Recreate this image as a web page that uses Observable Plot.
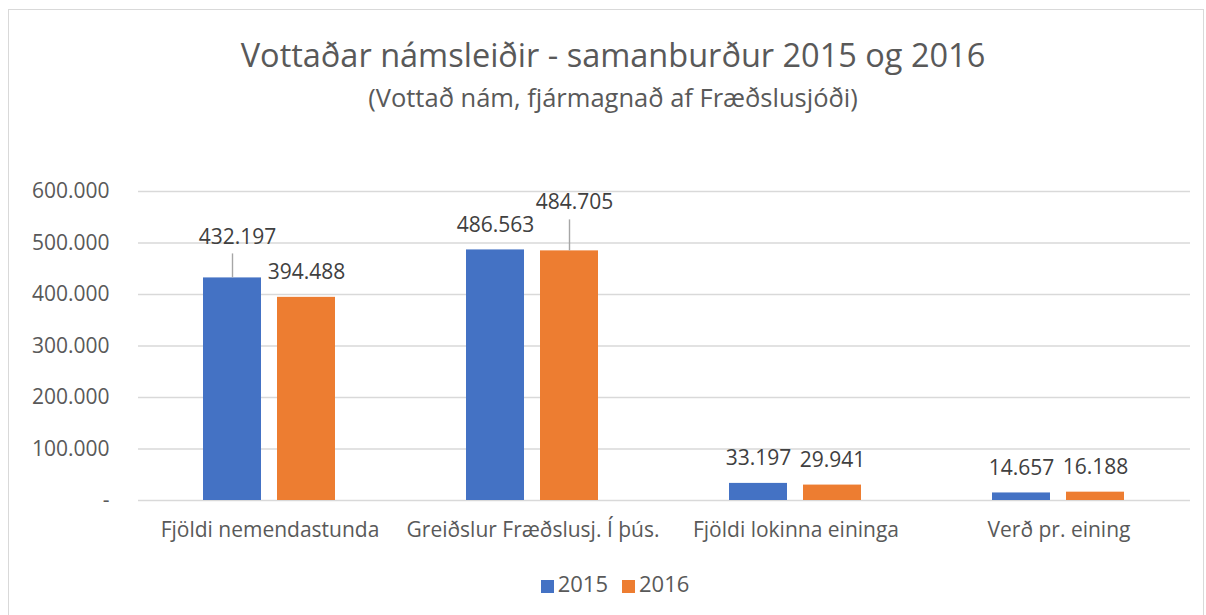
<!DOCTYPE html>
<html>
<head>
<meta charset="utf-8">
<script src="https://cdn.jsdelivr.net/npm/d3@7"></script>
<script src="https://cdn.jsdelivr.net/npm/@observablehq/plot@0.6"></script>
<style>
  html, body { margin: 0; padding: 0; background: #fff; }
  #wrap { position: relative; width: 1206px; height: 615px; overflow: hidden; font-family: "Open Sans", sans-serif; color: #595959; }
  #frame { position: absolute; left: 8px; top: 9px; width: 1196px; height: 620px; border: 1px solid #d9d9d9; box-sizing: border-box; }
  #title { position: absolute; left: 0; width: 1226px; top: 33px; text-align: center; font-size: 32.5px; line-height: 44px; }
  #subtitle { position: absolute; left: 0; width: 1226px; top: 81px; text-align: center; font-size: 25.5px; line-height: 32px; }
  #chart { position: absolute; left: 0; top: 140px; }
  #legend { position: absolute; left: 0; width: 1230px; top: 568px; text-align: center; font-size: 22px; line-height: 30px; }
  #legend span.item { display: inline-block; margin: 0 7px; }
  #legend span.sw { display: inline-block; width: 13px; height: 13px; margin-right: 4px; vertical-align: -1px; }
</style>
</head>
<body>
<div id="wrap">
  <div id="frame"></div>
  <div id="title">Vottaðar námsleiðir - samanburður 2015 og 2016</div>
  <div id="subtitle">(Vottað nám, fjármagnað af Fræðslusjóði)</div>
  <div id="chart"></div>
  <div id="legend"></div>
</div>
<script>
const categories = ["Fjöldi nemendastunda", "Greiðslur Fræðslusj. Í þús.", "Fjöldi lokinna eininga", "Verð pr. eining"];
const years = ["2015", "2016"];
const values2015 = [432197, 486563, 33197, 14657];
const values2016 = [394488, 484705, 29941, 16188];
const yTicks = [0, 100000, 200000, 300000, 400000, 500000, 600000];
const colors = ["#4472C4", "#ED7D31"];

const data = [];
categories.forEach((c, i) => {
  data.push({category: c, year: "2015", value: values2015[i]});
  data.push({category: c, year: "2016", value: values2016[i]});
});

const fmt = v => v === 0 ? "-" : d3.format(",")(v).replace(/,/g, ".");

// labels that were dragged away from the bar in the original (with leader lines)
const isKey = (d, c, y) => d.category === c && d.year === y;
const special = [
  {cat: categories[0], year: "2015", dx: 5, dy: -34, lead: 24},
  {cat: categories[1], year: "2016", dx: 5, dy: -42, lead: 31}
];
const isSpecial = d => special.some(s => isKey(d, s.cat, s.year));

const ySpan = 600000;
const plotH = 309; // pixel height of plot area
const unitsPerPx = ySpan / plotH;

const marks = [
  Plot.gridY(yTicks, {stroke: "#d9d9d9", strokeOpacity: 1, strokeWidth: 1.4}),
  Plot.barY(data, {fx: "category", x: "year", y: "value", fill: "year"}),
  Plot.text(data.filter(d => !isSpecial(d)), {
    fx: "category", x: "year", y: "value", text: d => fmt(d.value),
    lineAnchor: "bottom", dy: -18, fontSize: 21, fill: "#404040"
  })
];
special.forEach(s => {
  const sub = data.filter(d => isKey(d, s.cat, s.year));
  marks.push(Plot.ruleX(sub, {
    fx: "category", x: "year", y1: "value", y2: d => d.value + s.lead * unitsPerPx,
    stroke: "#a6a6a6", strokeWidth: 1.4
  }));
  marks.push(Plot.text(sub, {
    fx: "category", x: "year", y: "value", text: d => fmt(d.value),
    lineAnchor: "bottom", dx: s.dx, dy: s.dy, fontSize: 21, fill: "#404040"
  }));
});

const chart = Plot.plot({
  width: 1206,
  height: 420,
  marginTop: 51,
  marginBottom: 60,
  marginLeft: 137,
  marginRight: 16,
  style: {fontFamily: "Open Sans, sans-serif", fontSize: "21px", color: "#595959", background: "transparent"},
  fx: {domain: categories, padding: 0, axis: "bottom", label: null, tickSize: 0, tickPadding: 22},
  x: {domain: years, axis: null, paddingInner: 0.212, paddingOuter: 0.883},
  y: {domain: [0, ySpan], ticks: yTicks, tickFormat: fmt, tickSize: 0, tickPadding: 29, label: null},
  color: {domain: years, range: colors},
  marks
});
document.getElementById("chart").appendChild(chart);

const legend = document.getElementById("legend");
years.forEach((y, i) => {
  const item = document.createElement("span");
  item.className = "item";
  const sw = document.createElement("span");
  sw.className = "sw";
  sw.style.background = colors[i];
  item.appendChild(sw);
  item.appendChild(document.createTextNode(y));
  legend.appendChild(item);
});
</script>
</body>
</html>
